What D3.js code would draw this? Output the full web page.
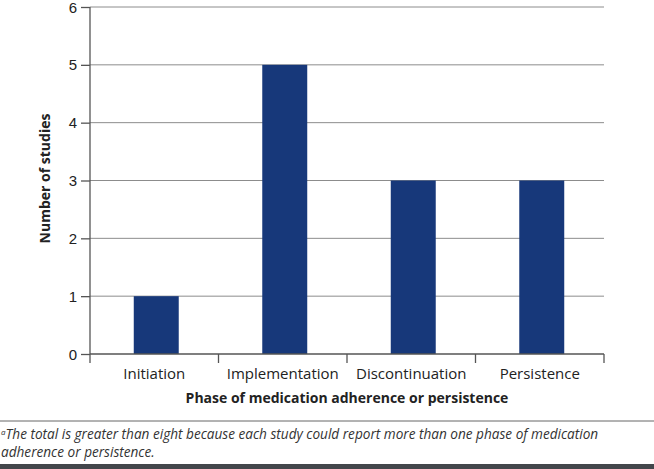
<!DOCTYPE html>
<html lang="en">
<head>
<meta charset="UTF-8">
<title>Phase of medication adherence or persistence</title>
<script src="https://d3js.org/d3.v7.min.js"></script>
<style>
    body {
        margin: 0;
        background: #fff;
        font-family: "Open Sans", "Noto Sans", sans-serif;
    }
    svg { display: block; }
    .grid line { stroke: #8c8c8c; stroke-width: 1px; }
    .axis path, .axis line { stroke: #555; stroke-width: 1.3px; }
    .axis text { font-size: 15px; fill: #222; }
    .axis-title { font-size: 14px; font-weight: bold; fill: #222; }
    .note { font-size: 13.6px; font-style: italic; fill: #333; }
</style>
</head>
<body>
<svg id="chart" width="654" height="469"></svg>
<script>
    const categories = ["Initiation", "Implementation", "Discontinuation", "Persistence"];
    const studies = [1, 5, 3, 3];
    const yTicks = [0, 1, 2, 3, 4, 5, 6];

    const svg = d3.select("#chart");
    const margin = {top: 7, left: 90, right: 50, bottom: 115};
    const W = 654, H = 469;
    const width = W - margin.left - margin.right;
    const height = H - margin.top - margin.bottom;

    const g = svg.append("g")
        .attr("transform", `translate(${margin.left},${margin.top})`);

    const x = d3.scaleBand()
        .domain(categories)
        .range([0, width]);

    const y = d3.scaleLinear()
        .domain([0, 6])
        .range([height, 0]);

    // horizontal gridlines
    g.append("g")
        .attr("class", "grid")
        .selectAll("line")
        .data(yTicks.filter(d => d > 0))
        .join("line")
        .attr("x1", 0)
        .attr("x2", width)
        .attr("y1", d => y(d))
        .attr("y2", d => y(d));

    // bars
    const barW = x.bandwidth() * 0.35;
    g.selectAll(".bar")
        .data(studies)
        .join("rect")
        .attr("class", "bar")
        .attr("x", (d, i) => x(categories[i]) + x.bandwidth() / 2 - barW / 2 + 2)
        .attr("y", d => y(d))
        .attr("width", barW)
        .attr("height", d => height - y(d))
        .attr("fill", "#17387a");

    // y axis
    const yAxis = g.append("g")
        .attr("class", "axis")
        .call(d3.axisLeft(y).tickValues(yTicks).tickFormat(d3.format("d")).tickSize(9).tickPadding(4));
    yAxis.select(".domain").attr("d", `M0,${height}V0`);
    yAxis.selectAll(".tick text").attr("dy", "0.34em");

    // x axis with ticks at band edges
    const xAxis = g.append("g")
        .attr("class", "axis")
        .attr("transform", `translate(0,${height})`);
    xAxis.append("line")
        .attr("x1", 0).attr("x2", width);
    const edges = categories.map(c => x(c)).concat([width]);
    xAxis.selectAll(".edge")
        .data(edges)
        .join("line")
        .attr("class", "edge")
        .attr("x1", d => d).attr("x2", d => d)
        .attr("y1", 0).attr("y2", 9);
    xAxis.selectAll(".lbl")
        .data(categories)
        .join("text")
        .attr("class", "lbl")
        .attr("x", d => x(d) + x.bandwidth() / 2)
        .attr("y", 25)
        .attr("text-anchor", "middle")
        .text(d => d);

    // axis titles
    g.append("text")
        .attr("class", "axis-title")
        .attr("x", width / 2)
        .attr("y", height + 49)
        .attr("text-anchor", "middle")
        .text("Phase of medication adherence or persistence");

    g.append("text")
        .attr("class", "axis-title")
        .attr("transform", "rotate(-90)")
        .attr("x", -height / 2 + 2)
        .attr("y", -40)
        .attr("text-anchor", "middle")
        .text("Number of studies");

    // footnote
    svg.append("line")
        .attr("x1", 0).attr("x2", W)
        .attr("y1", 421).attr("y2", 421)
        .attr("stroke", "#666").attr("stroke-width", 1);

    const note = svg.append("text")
        .attr("class", "note")
        .attr("x", 1)
        .attr("y", 439);
    note.append("tspan")
        .attr("font-size", "8px")
        .attr("dy", "-4")
        .text("a");
    note.append("tspan")
        .attr("dy", "4")
        .text("The total is greater than eight because each study could report more than one phase of medication");
    svg.append("text")
        .attr("class", "note")
        .attr("x", 1)
        .attr("y", 457)
        .text("adherence or persistence.");

    svg.append("rect")
        .attr("x", 0).attr("y", 464)
        .attr("width", W).attr("height", 5)
        .attr("fill", "#43464b");
</script>
</body>
</html>
